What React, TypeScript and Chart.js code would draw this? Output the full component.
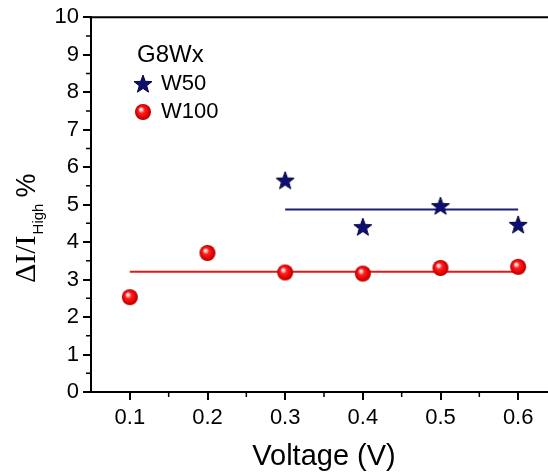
import { useEffect, useRef } from "react";
import { Chart, registerables } from "chart.js";

Chart.register(...registerables);

// Measured ΔI/I_High (%) against bias voltage for the two G8Wx widths
const VOLTAGES_W50 = [0.3, 0.4, 0.5, 0.6];
const VALUES_W50 = [5.64, 4.4, 4.96, 4.46];
const VOLTAGES_W100 = [0.1, 0.2, 0.3, 0.4, 0.5, 0.6];
const VALUES_W100 = [2.53, 3.71, 3.19, 3.16, 3.31, 3.34];

// Horizontal fit levels and the voltage span each one covers
const FIT_W50 = 4.87;
const FIT_W50_SPAN = [0.3, 0.6];
const FIT_W100 = 3.21;
const FIT_W100_SPAN = [0.1, 0.6];

// Axis ticks
const X_TICKS = [0.1, 0.2, 0.3, 0.4, 0.5, 0.6];
const X_MINOR = [0.15, 0.25, 0.35, 0.45, 0.55];
const Y_TICKS = [0, 1, 2, 3, 4, 5, 6, 7, 8, 9, 10];
const Y_MINOR = [0.5, 1.5, 2.5, 3.5, 4.5, 5.5, 6.5, 7.5, 8.5, 9.5];

const LEGEND_TITLE = "G8Wx";
const SERIES_NAMES = ["W50", "W100"];

const SANS = '"Liberation Sans", Arial, sans-serif';
const SERIF = '"Liberation Serif", "Times New Roman", serif';
const NAVY = "#0e0e74";
const RED = "#e01a1a";

function makeStar(): HTMLCanvasElement {
  const size = 22;
  const c = document.createElement("canvas");
  c.width = size;
  c.height = size;
  const ctx = c.getContext("2d")!;
  const cx = size / 2;
  const cy = size / 2 + 0.5;
  const outer = 9.5;
  const inner = 3.9;
  ctx.beginPath();
  for (let i = 0; i < 10; i++) {
    const r = i % 2 === 0 ? outer : inner;
    const ang = -Math.PI / 2 + (i * Math.PI) / 5;
    const px = cx + r * Math.cos(ang);
    const py = cy + r * Math.sin(ang);
    if (i === 0) ctx.moveTo(px, py);
    else ctx.lineTo(px, py);
  }
  ctx.closePath();
  ctx.fillStyle = NAVY;
  ctx.fill();
  ctx.strokeStyle = "#06063c";
  ctx.lineWidth = 1;
  ctx.stroke();
  return c;
}

function makeSphere(): HTMLCanvasElement {
  const r = 8;
  const size = 2 * r + 2;
  const c = document.createElement("canvas");
  c.width = size;
  c.height = size;
  const ctx = c.getContext("2d")!;
  const cx = size / 2;
  const cy = size / 2;
  const g = ctx.createRadialGradient(cx - 2.5, cy - 3, 0, cx, cy, r);
  g.addColorStop(0, "#ffffff");
  g.addColorStop(0.18, "#ffc4c4");
  g.addColorStop(0.4, "#ff2020");
  g.addColorStop(0.8, "#e00000");
  g.addColorStop(1, "#a80000");
  ctx.beginPath();
  ctx.arc(cx, cy, r, 0, Math.PI * 2);
  ctx.fillStyle = g;
  ctx.fill();
  return c;
}

export default function App() {
  const canvasRef = useRef<HTMLCanvasElement | null>(null);

  useEffect(() => {
    const canvas = canvasRef.current;
    if (!canvas) return;
    const star = makeStar();
    const sphere = makeSphere();

    const decorations = {
      id: "decorations",
      afterDraw(chart: Chart) {
        const { ctx, chartArea: a } = chart;
        const xs = chart.scales.x;
        const ys = chart.scales.y;
        ctx.save();
        ctx.strokeStyle = "#000";
        ctx.lineWidth = 2;
        // upper and right frame edges
        ctx.beginPath();
        ctx.moveTo(a.left - 2, a.top);
        ctx.lineTo(a.right + 1, a.top);
        ctx.moveTo(a.right, a.top);
        ctx.lineTo(a.right, a.bottom);
        ctx.stroke();

        // minor ticks
        ctx.lineWidth = 1.5;
        ctx.beginPath();
        for (const v of X_MINOR) {
          const px = xs.getPixelForValue(v);
          ctx.moveTo(px, a.bottom);
          ctx.lineTo(px, a.bottom + 5);
        }
        for (const v of Y_MINOR) {
          const py = ys.getPixelForValue(v);
          ctx.moveTo(a.left, py);
          ctx.lineTo(a.left - 5, py);
        }
        ctx.stroke();

        ctx.fillStyle = "#000";
        // x-axis title
        ctx.font = `29px ${SANS}`;
        ctx.textAlign = "center";
        ctx.textBaseline = "alphabetic";
        ctx.fillText("Voltage (V)", (a.left + a.right) / 2, 465);

        // y-axis title: ΔI/I with subscript "High", then %
        ctx.save();
        ctx.translate(35, 283);
        ctx.rotate(-Math.PI / 2);
        ctx.textAlign = "left";
        ctx.font = `30px ${SERIF}`;
        ctx.fillText("ΔI/I", 0, 0);
        let off = ctx.measureText("ΔI/I").width + 1;
        ctx.font = `15px ${SANS}`;
        ctx.fillText("High", off, 8);
        off += ctx.measureText("High").width + 6;
        ctx.font = `27px ${SANS}`;
        ctx.fillText("%", off, 0);
        ctx.restore();

        // legend
        ctx.textAlign = "left";
        ctx.font = `24px ${SANS}`;
        ctx.fillText(LEGEND_TITLE, 137, 62);
        ctx.font = `22px ${SANS}`;
        ctx.drawImage(star, 143 - star.width / 2, 84 - star.height / 2);
        ctx.fillText(SERIES_NAMES[0], 161, 90);
        ctx.drawImage(sphere, 143 - sphere.width / 2, 112 - sphere.height / 2);
        ctx.fillText(SERIES_NAMES[1], 161, 118);
        ctx.restore();
      },
    };

    const chart = new Chart(canvas, {
      type: "scatter",
      data: {
        datasets: [
          {
            label: SERIES_NAMES[0],
            data: VOLTAGES_W50.map((v, i) => ({ x: v, y: VALUES_W50[i] })),
            pointStyle: star,
            pointRadius: 10,
            showLine: false,
          },
          {
            label: SERIES_NAMES[1],
            data: VOLTAGES_W100.map((v, i) => ({ x: v, y: VALUES_W100[i] })),
            pointStyle: sphere,
            pointRadius: 9,
            showLine: false,
          },
          {
            label: SERIES_NAMES[0] + " fit",
            data: FIT_W50_SPAN.map((v) => ({ x: v, y: FIT_W50 })),
            showLine: true,
            borderColor: "#1f1f72",
            borderWidth: 2,
            pointRadius: 0,
          },
          {
            label: SERIES_NAMES[1] + " fit",
            data: FIT_W100_SPAN.map((v) => ({ x: v, y: FIT_W100 })),
            showLine: true,
            borderColor: RED,
            borderWidth: 2,
            pointRadius: 0,
          },
        ],
      },
      options: {
        animation: false,
        responsive: false,
        maintainAspectRatio: false,
        events: [],
        layout: { padding: { top: 15, right: 13, left: 0, bottom: 0 } },
        plugins: { legend: { display: false }, tooltip: { enabled: false } },
        scales: {
          x: {
            type: "linear",
            min: 0.05,
            max: 0.65,
            afterBuildTicks: (s: any) => {
              s.ticks = X_TICKS.map((v) => ({ value: v }));
            },
            afterFit: (s: any) => {
              s.height = 82;
            },
            grid: {
              display: true,
              drawOnChartArea: false,
              drawTicks: true,
              tickLength: 8,
              color: "#000",
              lineWidth: 2,
            },
            border: { display: true, color: "#000", width: 2 },
            ticks: {
              color: "#000",
              font: { family: SANS, size: 22 },
              padding: 5,
              maxRotation: 0,
              autoSkip: false,
              callback: (v: any) => Number(v).toFixed(1),
            },
          },
          y: {
            type: "linear",
            min: 0,
            max: 10,
            afterBuildTicks: (s: any) => {
              s.ticks = Y_TICKS.map((v) => ({ value: v }));
            },
            afterFit: (s: any) => {
              s.width = 91;
            },
            grid: {
              display: true,
              drawOnChartArea: false,
              drawTicks: true,
              tickLength: 8,
              color: "#000",
              lineWidth: 2,
            },
            border: { display: true, color: "#000", width: 2 },
            ticks: {
              color: "#000",
              font: { family: SANS, size: 22 },
              padding: 4,
              autoSkip: false,
              callback: (v: any) => String(v),
            },
          },
        },
      },
      plugins: [decorations],
    });

    return () => chart.destroy();
  }, []);

  return (
    <div style={{ position: "fixed", left: 0, top: 0, width: 570, height: 474, background: "#fff" }}>
      <canvas ref={canvasRef} width={570} height={474} style={{ display: "block" }} />
    </div>
  );
}
